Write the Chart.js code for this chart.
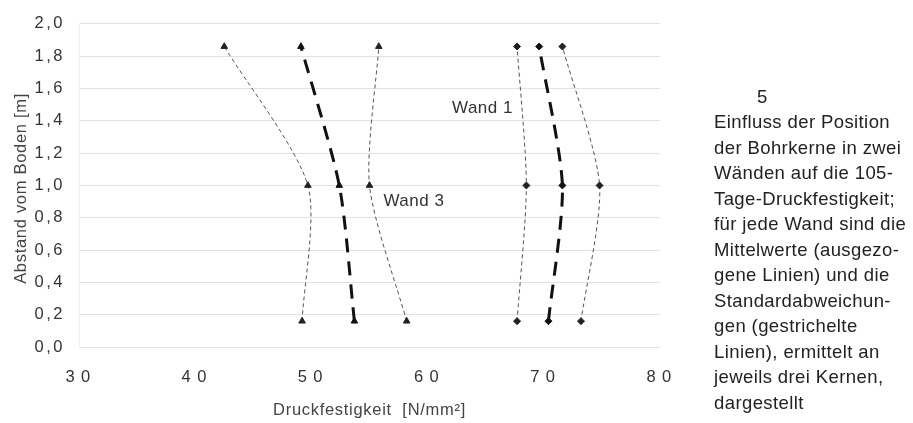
<!DOCTYPE html>
<html>
<head>
<meta charset="utf-8">
<script src="https://cdn.jsdelivr.net/npm/chart.js@4/dist/chart.umd.min.js"></script>
<style>
  html, body { margin: 0; padding: 0; background: #fff; }
  #wrap { position: relative; width: 913px; height: 423px; overflow: hidden; }
  #c { position: absolute; left: 0; top: 0; }
  .cap { position: absolute; font-family: "Liberation Sans", Arial, sans-serif;
         font-size: 18.5px; line-height: 25.5px; letter-spacing: 0.4px; color: #222; white-space: pre; }
</style>
</head>
<body>
<div id="wrap">
  <canvas id="c" width="913" height="423"></canvas>
  <div class="cap" style="left:757px; top:84px;">5</div>
  <div class="cap" style="left:714px; top:109px;">Einfluss der Position
der Bohrkerne in zwei
Wänden auf die 105-
Tage-Druckfestigkeit;
für jede Wand sind die
Mittelwerte (ausgezo-
gene Linien) und die
Standardabweichun-
gen (gestrichelte
Linien), ermittelt an
jeweils drei Kernen,
dargestellt</div>
</div>
<script>
// ---- data ----
const heights = [0.16, 1.0, 1.86];          // Abstand vom Boden [m]
const wand3Mean  = [53.7, 52.4, 49.1];
const wand3Lower = [49.2, 49.7, 42.5];
const wand3Upper = [58.2, 55.0, 55.8];
const wand1Mean  = [70.4, 71.6, 69.6];
const wand1Lower = [67.7, 68.5, 67.7];
const wand1Upper = [73.2, 74.8, 71.6];
const xTicks = [30, 40, 50, 60, 70, 80];
const yTicks = [0, 0.2, 0.4, 0.6, 0.8, 1.0, 1.2, 1.4, 1.6, 1.8, 2.0];
const xTitle = 'Druckfestigkeit  [N/mm²]';
const yTitle = 'Abstand vom Boden [m]';
const wallLabels = [
  { text: 'Wand 1', x: 62.1, y: 1.48 },
  { text: 'Wand 3', x: 56.2, y: 0.90 }
];

const pts = (xs) => xs.map((x, i) => ({ x: x, y: heights[i] }));
const FONT = '"Liberation Sans", Arial, sans-serif';

function meanSet(xs, style) {
  return {
    data: pts(xs), showLine: true, tension: 0.25,
    borderColor: '#111', borderWidth: 3, borderDash: [14, 9],
    pointStyle: style, pointRadius: style === 'triangle' ? 3.8 : 3.5,
    pointBackgroundColor: '#111', pointBorderColor: '#111', pointBorderWidth: 1
  };
}
function stdSet(xs, style) {
  return {
    data: pts(xs), showLine: true, tension: 0.25,
    borderColor: '#555', borderWidth: 1, borderDash: [4, 3],
    pointStyle: style, pointRadius: style === 'triangle' ? 3.8 : 3.5,
    pointBackgroundColor: '#222', pointBorderColor: '#222', pointBorderWidth: 1
  };
}

const textPlugin = {
  id: 'texts',
  beforeDraw(chart) { chart.ctx.letterSpacing = '2.5px'; },
  afterDatasetsDraw(chart) {
    const ctx = chart.ctx, xs = chart.scales.x, ys = chart.scales.y, a = chart.chartArea;
    ctx.save();
    ctx.letterSpacing = '0.5px';
    ctx.font = '17px ' + FONT;
    ctx.fillStyle = '#333';
    ctx.textAlign = 'left';
    ctx.textBaseline = 'middle';
    wallLabels.forEach(l => ctx.fillText(l.text, xs.getPixelForValue(l.x), ys.getPixelForValue(l.y)));
    // axis titles
    ctx.letterSpacing = '0.7px';
    ctx.font = '16.5px ' + FONT;
    ctx.fillStyle = '#444';
    ctx.textAlign = 'center';
    ctx.fillText(xTitle, (a.left + a.right) / 2, 410);
    ctx.translate(21, (a.top + a.bottom) / 2 + 3);
    ctx.rotate(-Math.PI / 2);
    ctx.fillText(yTitle, 0, 0);
    ctx.restore();
  }
};

new Chart(document.getElementById('c'), {
  type: 'scatter',
  data: {
    datasets: [
      stdSet(wand3Lower, 'triangle'),
      meanSet(wand3Mean, 'triangle'),
      stdSet(wand3Upper, 'triangle'),
      stdSet(wand1Lower, 'rectRot'),
      meanSet(wand1Mean, 'rectRot'),
      stdSet(wand1Upper, 'rectRot')
    ]
  },
  plugins: [textPlugin],
  options: {
    responsive: false,
    animation: false,
    layout: { padding: { top: 21, right: 253, left: 0, bottom: 0 } },
    plugins: { legend: { display: false }, tooltip: { enabled: false } },
    scales: {
      x: {
        type: 'linear', min: 30, max: 80,
        afterBuildTicks: (s) => { s.ticks = xTicks.map(v => ({ value: v })); },
        afterFit: (s) => { s.height = 76; },
        grid: { display: false, drawTicks: false },
        border: { display: false },
        ticks: { color: '#333', font: { family: FONT, size: 16.5 }, padding: 21,
                 callback: (v) => String(v).split('').join('\u200A') },
        title: { display: false }
      },
      y: {
        type: 'linear', min: 0, max: 2,
        afterBuildTicks: (s) => { s.ticks = yTicks.map(v => ({ value: v })); },
        afterFit: (s) => { s.width = 79; },
        grid: { color: '#e2e2e2', lineWidth: 1, drawTicks: false },
        border: { display: true, color: '#efefef' },
        ticks: { color: '#333', font: { family: FONT, size: 16.5 }, padding: 14,
                 callback: (v) => v.toFixed(1).replace('.', ',') },
        title: { display: false }
      }
    }
  }
});
</script>
</body>
</html>
